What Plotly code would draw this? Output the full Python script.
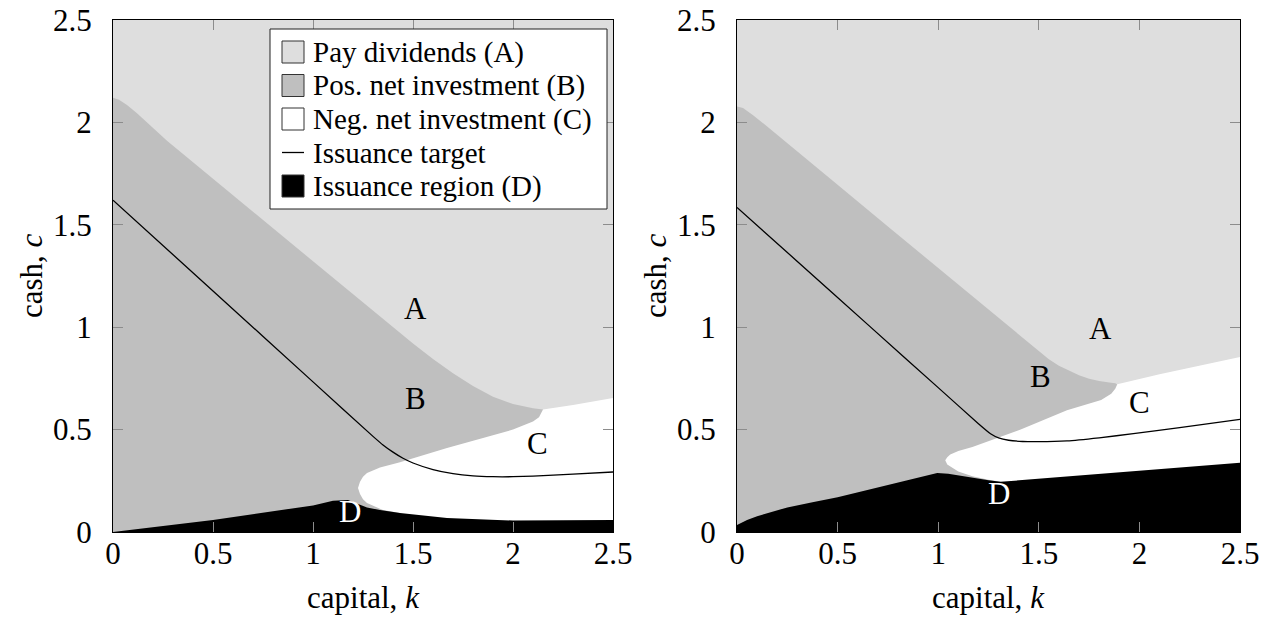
import plotly.graph_objects as go

# ---------------------------------------------------------------- data
K_MAX = 2.5
C_MAX = 2.5
tick_vals = [0, 0.5, 1, 1.5, 2, 2.5]
tick_text = ["0", "0.5", "1", "1.5", "2", "2.5"]

# Left panel: dividend boundary (top of region B)
left_ab_k = [0, 0.03, 0.07, 0.12, 0.2, 0.27, 0.6, 0.935, 1.2, 1.4, 1.5, 1.6, 1.7, 1.8,
             1.9, 2.0, 2.1, 2.15]
left_ab_c = [2.12, 2.11, 2.085, 2.045, 1.975, 1.91, 1.644, 1.375, 1.161, 1.0, 0.92, 0.845,
             0.775, 0.713, 0.66, 0.625, 0.604, 0.598]
# Left panel: upper edge of region C (nose -> B/C edge -> A/C edge)
left_cu_k = [1.225, 1.235, 1.25, 1.27, 1.335, 1.435, 1.67, 2.0, 2.1, 2.13, 2.15, 2.3, 2.5]
left_cu_c = [0.215, 0.245, 0.27, 0.288, 0.315, 0.34, 0.41, 0.5, 0.54, 0.56, 0.598, 0.62, 0.654]
# Left panel: lower edge of region C's nose
left_cl_k = [1.225, 1.235, 1.25, 1.27, 1.35, 1.435]
left_cl_c = [0.215, 0.185, 0.16, 0.141, 0.107, 0.093]
# Left panel: top of issuance region D
left_d_k = [0, 0.5, 1.0, 1.1, 1.175, 1.27, 1.335, 1.435, 1.67, 2.0, 2.5]
left_d_c = [0, 0.058, 0.13, 0.152, 0.156, 0.12, 0.107, 0.093, 0.068, 0.056, 0.058]
# Left panel: issuance target
left_t_k = [0, 0.5, 1.0, 1.3, 1.35, 1.4, 1.45, 1.5, 1.6, 1.7, 1.8, 1.9, 2.0, 2.1, 2.3, 2.5]
left_t_c = [1.62, 1.177, 0.733, 0.467, 0.425, 0.39, 0.36, 0.337, 0.305, 0.285, 0.274,
            0.27, 0.27, 0.273, 0.283, 0.293]

# Right panel
right_ab_k = [0, 0.03, 0.08, 0.15, 0.25, 0.5, 0.75, 1.0, 1.25, 1.4, 1.5, 1.55, 1.6, 1.65,
              1.7, 1.75, 1.8, 1.85, 1.88, 1.89]
right_ab_c = [2.078, 2.07, 2.035, 1.98, 1.9, 1.696, 1.492, 1.288, 1.084, 0.962, 0.88,
              0.843, 0.812, 0.787, 0.765, 0.748, 0.737, 0.73, 0.726, 0.72]
right_cu_k = [1.035, 1.045, 1.06, 1.1, 1.17, 1.3, 1.41, 1.64, 1.81, 1.86, 1.88, 1.89, 2.1, 2.5]
right_cu_c = [0.35, 0.365, 0.378, 0.395, 0.415, 0.46, 0.5, 0.595, 0.644, 0.675, 0.7, 0.722, 0.77, 0.855]
right_cl_k = [1.035, 1.045, 1.06, 1.1, 1.17, 1.25, 1.31]
right_cl_c = [0.35, 0.33, 0.318, 0.295, 0.272, 0.255, 0.245]
right_d_k = [0, 0.05, 0.1, 0.175, 0.25, 0.375, 0.5, 0.75, 0.995, 1.05, 1.15, 1.25, 1.31, 2.5]
right_d_c = [0.034, 0.058, 0.077, 0.1, 0.12, 0.145, 0.17, 0.23, 0.288, 0.285, 0.268, 0.253,
             0.245, 0.338]
right_t_k = [0, 0.3, 0.66, 1.0, 1.2, 1.26, 1.3, 1.35, 1.42, 1.5, 1.64, 1.8, 1.97, 2.2, 2.5]
right_t_c = [1.585, 1.321, 1.004, 0.705, 0.529, 0.48, 0.46, 0.448, 0.442, 0.441, 0.445,
             0.46, 0.48, 0.51, 0.55]

# Region letters
left_letters = [("A", 1.51, 1.09, "black"), ("B", 1.51, 0.65, "black"),
                ("C", 2.12, 0.43, "black"), ("D", 1.185, 0.10, "white")]
right_letters = [("A", 1.806, 0.995, "black"), ("B", 1.51, 0.76, "black"),
                 ("C", 2.0, 0.63, "black"), ("D", 1.30, 0.19, "white")]

legend_labels = ["Pay dividends (A)", "Pos. net investment (B)",
                 "Neg. net investment (C)", "Issuance target", "Issuance region (D)"]

# ---------------------------------------------------------------- style
COL_A = "#dedede"
COL_B = "#bfbfbf"
COL_C = "#ffffff"
COL_D = "#000000"
legend_fills = [COL_A, COL_B, COL_C, None, COL_D]
FONT = "Liberation Serif"
FS = 31
W, H = 1273, 624


def px(x):
    return x / W


def py(y):
    return 1 - y / H


fig = go.Figure()


def add_panel(xa, ya, ab_k, ab_c, cu_k, cu_c, cl_k, cl_c, d_k, d_c, t_k, t_c):
    # region B: everything under the dividend boundary
    fig.add_trace(go.Scatter(
        x=[0] + ab_k + [ab_k[-1]], y=[0] + ab_c + [0],
        fill="toself", fillcolor=COL_B, mode="lines", line=dict(width=0),
        xaxis=xa, yaxis=ya, showlegend=False, hoverinfo="skip"))
    # region C
    fig.add_trace(go.Scatter(
        x=cu_k + [K_MAX, cl_k[-1]] + cl_k[::-1],
        y=cu_c + [0, 0] + cl_c[::-1],
        fill="toself", fillcolor=COL_C, mode="lines", line=dict(width=0),
        xaxis=xa, yaxis=ya, showlegend=False, hoverinfo="skip"))
    # region D
    fig.add_trace(go.Scatter(
        x=d_k + [K_MAX, 0], y=d_c + [0, 0],
        fill="toself", fillcolor=COL_D, mode="lines", line=dict(width=0),
        xaxis=xa, yaxis=ya, showlegend=False, hoverinfo="skip"))
    # issuance target
    fig.add_trace(go.Scatter(
        x=t_k, y=t_c, mode="lines",
        line=dict(color="black", width=1.3, shape="spline", smoothing=0.5),
        xaxis=xa, yaxis=ya, showlegend=False, hoverinfo="skip"))


add_panel("x", "y", left_ab_k, left_ab_c, left_cu_k, left_cu_c, left_cl_k, left_cl_c,
          left_d_k, left_d_c, left_t_k, left_t_c)
add_panel("x2", "y2", right_ab_k, right_ab_c, right_cu_k, right_cu_c, right_cl_k, right_cl_c,
          right_d_k, right_d_c, right_t_k, right_t_c)

annotations = []
for letters, xr, yr in ((left_letters, "x", "y"), (right_letters, "x2", "y2")):
    for txt, kx, cy, col in letters:
        annotations.append(dict(x=kx, y=cy, xref=xr, yref=yr, text=txt, showarrow=False,
                                xanchor="center", yanchor="middle",
                                font=dict(family=FONT, size=FS, color=col)))

# axis titles
for cx in (363, 988):
    annotations.append(dict(x=px(cx), y=py(597), xref="paper", yref="paper",
                            xanchor="center", yanchor="middle",
                            text="capital, <i>k</i>", showarrow=False,
                            font=dict(family=FONT, size=FS, color="black")))
for cx in (31, 655):
    annotations.append(dict(x=px(cx), y=py(276), xref="paper", yref="paper",
                            xanchor="center", yanchor="middle",
                            text="cash, <i>c</i>", showarrow=False, textangle=-90,
                            font=dict(family=FONT, size=FS, color="black")))

# legend box
shapes = [dict(type="rect", xref="paper", yref="paper",
               x0=px(270), x1=px(607), y0=py(209), y1=py(29),
               fillcolor="white", line=dict(color="#222222", width=1), layer="above")]
row0, step = 52, 33.5
for i, (lab, fc) in enumerate(zip(legend_labels, legend_fills)):
    yc = row0 + i * step
    if fc is None:
        shapes.append(dict(type="line", xref="paper", yref="paper",
                           x0=px(282), x1=px(304), y0=py(yc), y1=py(yc),
                           line=dict(color="black", width=1.3), layer="above"))
    else:
        shapes.append(dict(type="rect", xref="paper", yref="paper",
                           x0=px(282), x1=px(304), y0=py(yc + 11), y1=py(yc - 11),
                           fillcolor=fc, line=dict(color="#333333", width=1), layer="above"))
    annotations.append(dict(x=px(311), y=py(yc), xref="paper", yref="paper",
                            xanchor="left", yanchor="middle", text=lab, showarrow=False,
                            font=dict(family=FONT, size=29, color="black")))

axis_common = dict(range=[0, K_MAX], tickvals=tick_vals, ticktext=tick_text,
                   ticks="inside", ticklen=10, tickcolor="#8c8c8c", tickwidth=1,
                   showline=True, linecolor="black", linewidth=1, mirror="ticks",
                   showgrid=False, zeroline=False, automargin=False,
                   tickfont=dict(family=FONT, size=FS, color="black"))

fig.update_layout(
    width=W, height=H,
    margin=dict(l=0, r=0, t=0, b=0),
    paper_bgcolor="white", plot_bgcolor=COL_A,
    showlegend=False,
    xaxis=dict(domain=[px(113), px(613)], anchor="y", ticklabelstandoff=-6, **axis_common),
    yaxis=dict(domain=[py(532), py(20)], anchor="x", ticklabelstandoff=14, **axis_common),
    xaxis2=dict(domain=[px(737), px(1240)], anchor="y2", ticklabelstandoff=-6, **axis_common),
    yaxis2=dict(domain=[py(532), py(20)], anchor="x2", ticklabelstandoff=14, **axis_common),
    annotations=annotations, shapes=shapes,
)

fig.write_html("out.html")
